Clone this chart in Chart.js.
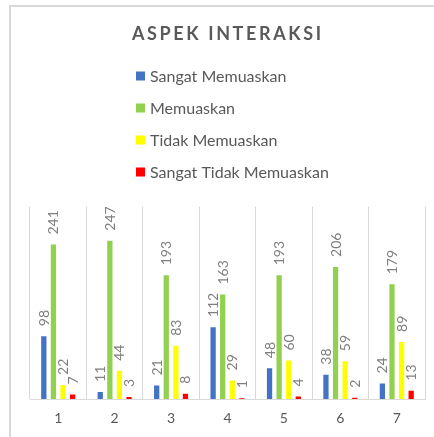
<!DOCTYPE html>
<html>
<head>
<meta charset="utf-8">
<script src="https://cdn.jsdelivr.net/npm/chart.js@4.4.1/dist/chart.umd.min.js"></script>
<style>
  html, body { margin: 0; padding: 0; background: #fff; overflow: hidden; }
  #wrap { position: relative; width: 434px; height: 437px; }
  #frame { position: absolute; left: 9px; top: 5px; width: 600px; height: 600px; border: 2px solid #d9d9d9; box-sizing: border-box; pointer-events: none; }
  canvas { position: absolute; left: 0; top: 0; }
</style>
</head>
<body>
<div id="wrap">
  <div id="frame"></div>
  <canvas id="c" width="434" height="437"></canvas>
</div>
<script>
const chartTitle = "ASPEK INTERAKSI";
const categories = ["1", "2", "3", "4", "5", "6", "7"];
const seriesNames = ["Sangat Memuaskan", "Memuaskan", "Tidak Memuaskan", "Sangat Tidak Memuaskan"];
const seriesColors = ["#4472C4", "#92D050", "#FFFF00", "#FF0000"];
const sangatMemuaskan = [98, 11, 21, 112, 48, 38, 24];
const memuaskan = [241, 247, 193, 163, 193, 206, 179];
const tidakMemuaskan = [22, 44, 83, 29, 60, 59, 89];
const sangatTidakMemuaskan = [7, 3, 8, 1, 4, 2, 13];
const seriesValues = [sangatMemuaskan, memuaskan, tidakMemuaskan, sangatTidakMemuaskan];

const FONT = "Lato, 'Open Sans', sans-serif";

const decorPlugin = {
  id: 'decor',
  afterDraw(chart) {
    const ctx = chart.ctx;
    // Title
    ctx.save();
    ctx.font = "bold 18px " + FONT;
    ctx.fillStyle = "#595959";
    ctx.textBaseline = "alphabetic";
    ctx.textAlign = "left";
    const sp = 2.6;
    ctx.letterSpacing = sp + "px";
    const w = ctx.measureText(chartTitle).width - sp;
    ctx.fillText(chartTitle, 226.5 - w / 2, 40);
    ctx.restore();
    // Legend
    ctx.save();
    ctx.font = "16px " + FONT;
    ctx.textBaseline = "middle";
    ctx.textAlign = "left";
    seriesNames.forEach((name, i) => {
      const cy = 76 + i * 32;
      ctx.fillStyle = seriesColors[i];
      ctx.fillRect(136, cy - 4.5, 9, 9);
      ctx.fillStyle = "#595959";
      ctx.fillText(name, 150, cy + 1);
    });
    ctx.restore();
  },
  afterDatasetsDraw(chart) {
    const ctx = chart.ctx;
    ctx.save();
    ctx.font = "14px " + FONT;
    ctx.fillStyle = "#7f7f7f";
    ctx.textAlign = "left";
    ctx.textBaseline = "middle";
    chart.data.datasets.forEach((ds, di) => {
      const meta = chart.getDatasetMeta(di);
      meta.data.forEach((bar, i) => {
        ctx.save();
        ctx.translate(bar.x + 0.5, bar.y - 10);
        ctx.rotate(-Math.PI / 2);
        ctx.fillText(String(ds.data[i]), 0, 0);
        ctx.restore();
      });
    });
    ctx.restore();
  }
};

new Chart(document.getElementById('c'), {
  type: 'bar',
  data: {
    labels: categories,
    datasets: seriesNames.map((n, i) => ({
      label: n,
      data: seriesValues[i],
      backgroundColor: seriesColors[i],
      borderWidth: 0,
      categoryPercentage: 0.68,
      barPercentage: 0.55
    }))
  },
  options: {
    responsive: false,
    animation: false,
    devicePixelRatio: 1,
    layout: { padding: { left: 30, right: 9, top: 206.7, bottom: 0 } },
    plugins: {
      legend: { display: false },
      title: { display: false },
      tooltip: { enabled: false }
    },
    scales: {
      x: {
        grid: { display: true, offset: true, color: "#d9d9d9", lineWidth: 1, drawTicks: false },
        border: { display: true, color: "#d9d9d9", width: 1 },
        ticks: { color: "#595959", font: { family: FONT, size: 14 }, padding: 11 },
        afterFit(scale) { scale.height = 38; }
      },
      y: {
        display: false,
        min: 0,
        max: 300
      }
    }
  },
  plugins: [decorPlugin]
});
</script>
</body>
</html>
